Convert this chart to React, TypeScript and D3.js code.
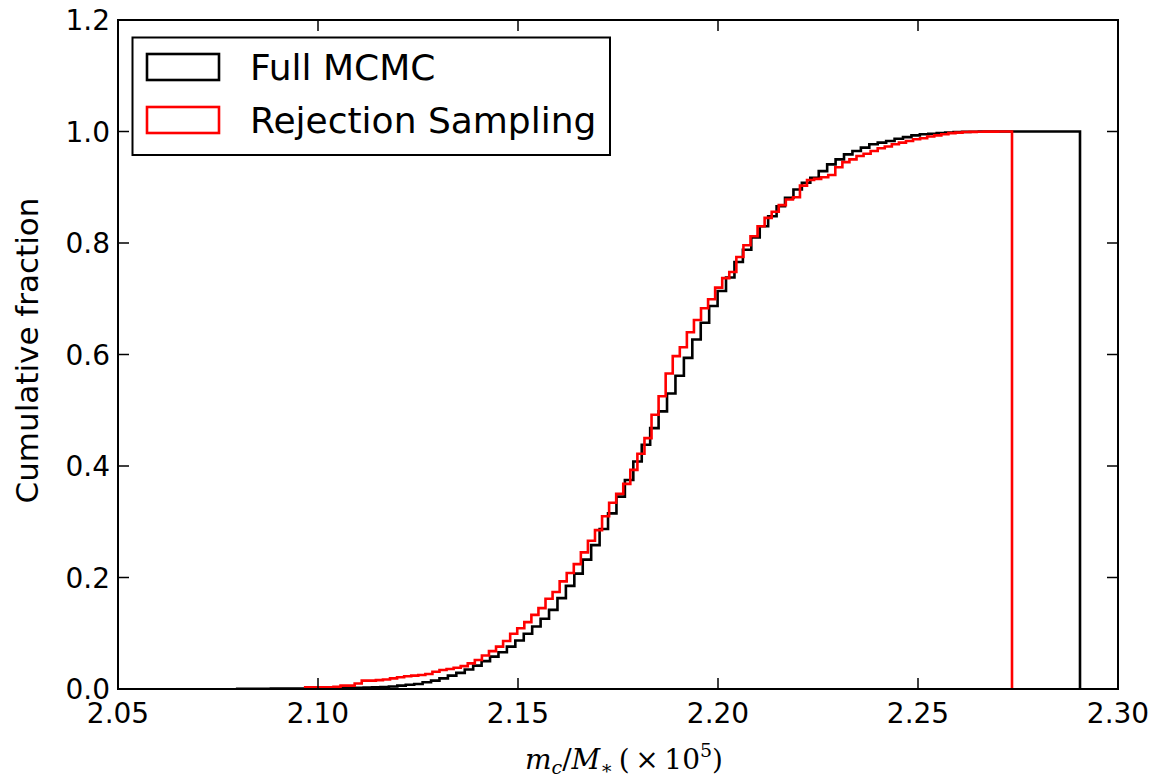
import React from "react";
import * as d3 from "d3";

const W = 1155;
const H = 777;
const M = { left: 118, right: 1118, top: 20, bottom: 689 };

const xTicks = [2.05, 2.1, 2.15, 2.2, 2.25, 2.3];
const yTicks = [0, 0.2, 0.4, 0.6, 0.8, 1.0, 1.2];

// Full MCMC cumulative histogram (100 bins)
const mcmcRange = [2.0798, 2.2905];
const mcmcCum = [
  0.0005, 0.0005, 0.0005, 0.0005, 0.0007, 0.0007, 0.0008, 0.0008, 0.0009, 0.001,
  0.001, 0.0012, 0.0014, 0.0016, 0.002, 0.0025, 0.003, 0.0035, 0.0045, 0.006,
  0.0075, 0.009, 0.012, 0.015, 0.019, 0.024, 0.029, 0.035, 0.042, 0.05,
  0.058, 0.066, 0.076, 0.087, 0.099, 0.112, 0.126, 0.142, 0.163, 0.185,
  0.207, 0.232, 0.258, 0.287, 0.315, 0.345, 0.375, 0.408, 0.438, 0.468,
  0.498, 0.53, 0.562, 0.594, 0.627, 0.657, 0.687, 0.714, 0.738, 0.766,
  0.788, 0.81, 0.83, 0.848, 0.866, 0.881, 0.896, 0.908, 0.917, 0.929,
  0.941, 0.95, 0.959, 0.965, 0.971, 0.977, 0.98, 0.983, 0.987, 0.99,
  0.993, 0.995, 0.996, 0.997, 0.998, 0.999, 0.9993, 0.9995, 0.9997, 0.9998,
  0.9999, 0.9999, 0.9999, 0.9999, 0.9999, 0.9999, 0.9999, 0.9999, 0.9999, 1.0,
];

// Rejection Sampling cumulative histogram (100 bins)
const rejRange = [2.0968, 2.2735];
const rejCum = [
  0.003, 0.003, 0.003, 0.003, 0.004, 0.006, 0.006, 0.01, 0.015, 0.015,
  0.016, 0.017, 0.019, 0.021, 0.023, 0.024, 0.025, 0.027, 0.031, 0.034,
  0.036, 0.038, 0.041, 0.046, 0.052, 0.06, 0.068, 0.076, 0.086, 0.099,
  0.109, 0.12, 0.133, 0.145, 0.162, 0.174, 0.193, 0.208, 0.224, 0.245,
  0.266, 0.285, 0.31, 0.334, 0.35, 0.368, 0.393, 0.422, 0.45, 0.492,
  0.525, 0.566, 0.597, 0.613, 0.64, 0.662, 0.683, 0.699, 0.72, 0.737,
  0.748, 0.775, 0.796, 0.812, 0.83, 0.845, 0.856, 0.868, 0.878, 0.882,
  0.903, 0.913, 0.915, 0.918, 0.922, 0.936, 0.945, 0.95, 0.956, 0.96,
  0.965, 0.97, 0.973, 0.977, 0.98, 0.983, 0.986, 0.988, 0.991, 0.993,
  0.995, 0.997, 0.998, 0.999, 0.9993, 0.9995, 0.9997, 0.9998, 0.9999, 1.0,
];

const seriesNames = ["Full MCMC", "Rejection Sampling"];
const seriesColors = ["#000000", "#ff0000"];

const FONT = "'DejaVu Sans', sans-serif";

export default function App() {
  const x = d3.scaleLinear().domain([2.05, 2.3]).range([M.left, M.right]);
  const y = d3.scaleLinear().domain([0, 1.2]).range([M.bottom, M.top]);

  const stepPath = (range: number[], cum: number[]) => {
    const n = cum.length;
    const edges = d3.range(n + 1).map((i) => range[0] + ((range[1] - range[0]) * i) / n);
    const pts: [number, number][] = [[edges[0], 0]];
    cum.forEach((c, i) => {
      pts.push([edges[i], c]);
      pts.push([edges[i + 1], c]);
    });
    pts.push([edges[n], 0]);
    const line = d3
      .line<[number, number]>()
      .x((d) => x(d[0]))
      .y((d) => y(d[1]));
    return line(pts) || "";
  };

  const tickLen = 11;
  const fmt = d3.format(".2f");
  const fmtY = d3.format(".1f");

  return (
    <svg
      width={W}
      height={H}
      style={{ position: "absolute", left: 0, top: 0, background: "#fff" }}
      fontFamily={FONT}
    >
      <rect x={0} y={0} width={W} height={H} fill="#fff" />
      <defs>
        <clipPath id="plotclip">
          <rect x={M.left} y={M.top} width={M.right - M.left} height={M.bottom - M.top} />
        </clipPath>
      </defs>

      <g clipPath="url(#plotclip)">
        <path d={stepPath(mcmcRange, mcmcCum)} fill="none" stroke={seriesColors[0]} strokeWidth={2.6} />
        <path d={stepPath(rejRange, rejCum)} fill="none" stroke={seriesColors[1]} strokeWidth={2.6} />
      </g>

      {/* ticks */}
      {xTicks.map((t) => (
        <g key={"xt" + t}>
          <line x1={x(t)} x2={x(t)} y1={M.bottom} y2={M.bottom - tickLen} stroke="#000" strokeWidth={1.5} />
          <line x1={x(t)} x2={x(t)} y1={M.top} y2={M.top + tickLen} stroke="#000" strokeWidth={1.5} />
          <text x={x(t)} y={723} textAnchor="middle" fontSize={28}>
            {fmt(t)}
          </text>
        </g>
      ))}
      {yTicks.map((t) => (
        <g key={"yt" + t}>
          <line x1={M.left} x2={M.left + tickLen} y1={y(t)} y2={y(t)} stroke="#000" strokeWidth={1.5} />
          <line x1={M.right} x2={M.right - tickLen} y1={y(t)} y2={y(t)} stroke="#000" strokeWidth={1.5} />
          <text x={110} y={y(t) + 10} textAnchor="end" fontSize={28}>
            {fmtY(t)}
          </text>
        </g>
      ))}

      {/* frame */}
      <rect
        x={M.left}
        y={M.top}
        width={M.right - M.left}
        height={M.bottom - M.top}
        fill="none"
        stroke="#000"
        strokeWidth={2}
      />

      {/* axis labels */}
      <text
        transform={`translate(38, ${(M.top + M.bottom) / 2 - 4}) rotate(-90)`}
        textAnchor="middle"
        fontSize={31}
      >
        Cumulative fraction
      </text>
      <text
        x={(M.left + M.right) / 2 + 6}
        y={769}
        textAnchor="middle"
        fontSize={28}
        fontFamily="'DejaVu Serif', serif"
      >
        <tspan fontStyle="italic">m</tspan>
        <tspan fontStyle="italic" fontSize={19} dy={5}>c</tspan>
        <tspan dy={-5}>/</tspan>
        <tspan fontStyle="italic">M</tspan>
        <tspan fontSize={19} dy={5}>∗</tspan>
        <tspan dy={-5}>{"\u2009(\u2009×\u200910"}</tspan>
        <tspan fontSize={19} dy={-12}>5</tspan>
        <tspan dy={12}>)</tspan>
      </text>

      {/* legend */}
      <g>
        <rect x={132.5} y={37.5} width={477.5} height={117.5} fill="#fff" stroke="#000" strokeWidth={2} />
        {seriesNames.map((name, i) => (
          <g key={name}>
            <rect
              x={147}
              y={54 + i * 53}
              width={72}
              height={26}
              fill="none"
              stroke={seriesColors[i]}
              strokeWidth={2.6}
            />
            <text x={250} y={80 + i * 53} fontSize={36}>
              {name}
            </text>
          </g>
        ))}
      </g>
    </svg>
  );
}
